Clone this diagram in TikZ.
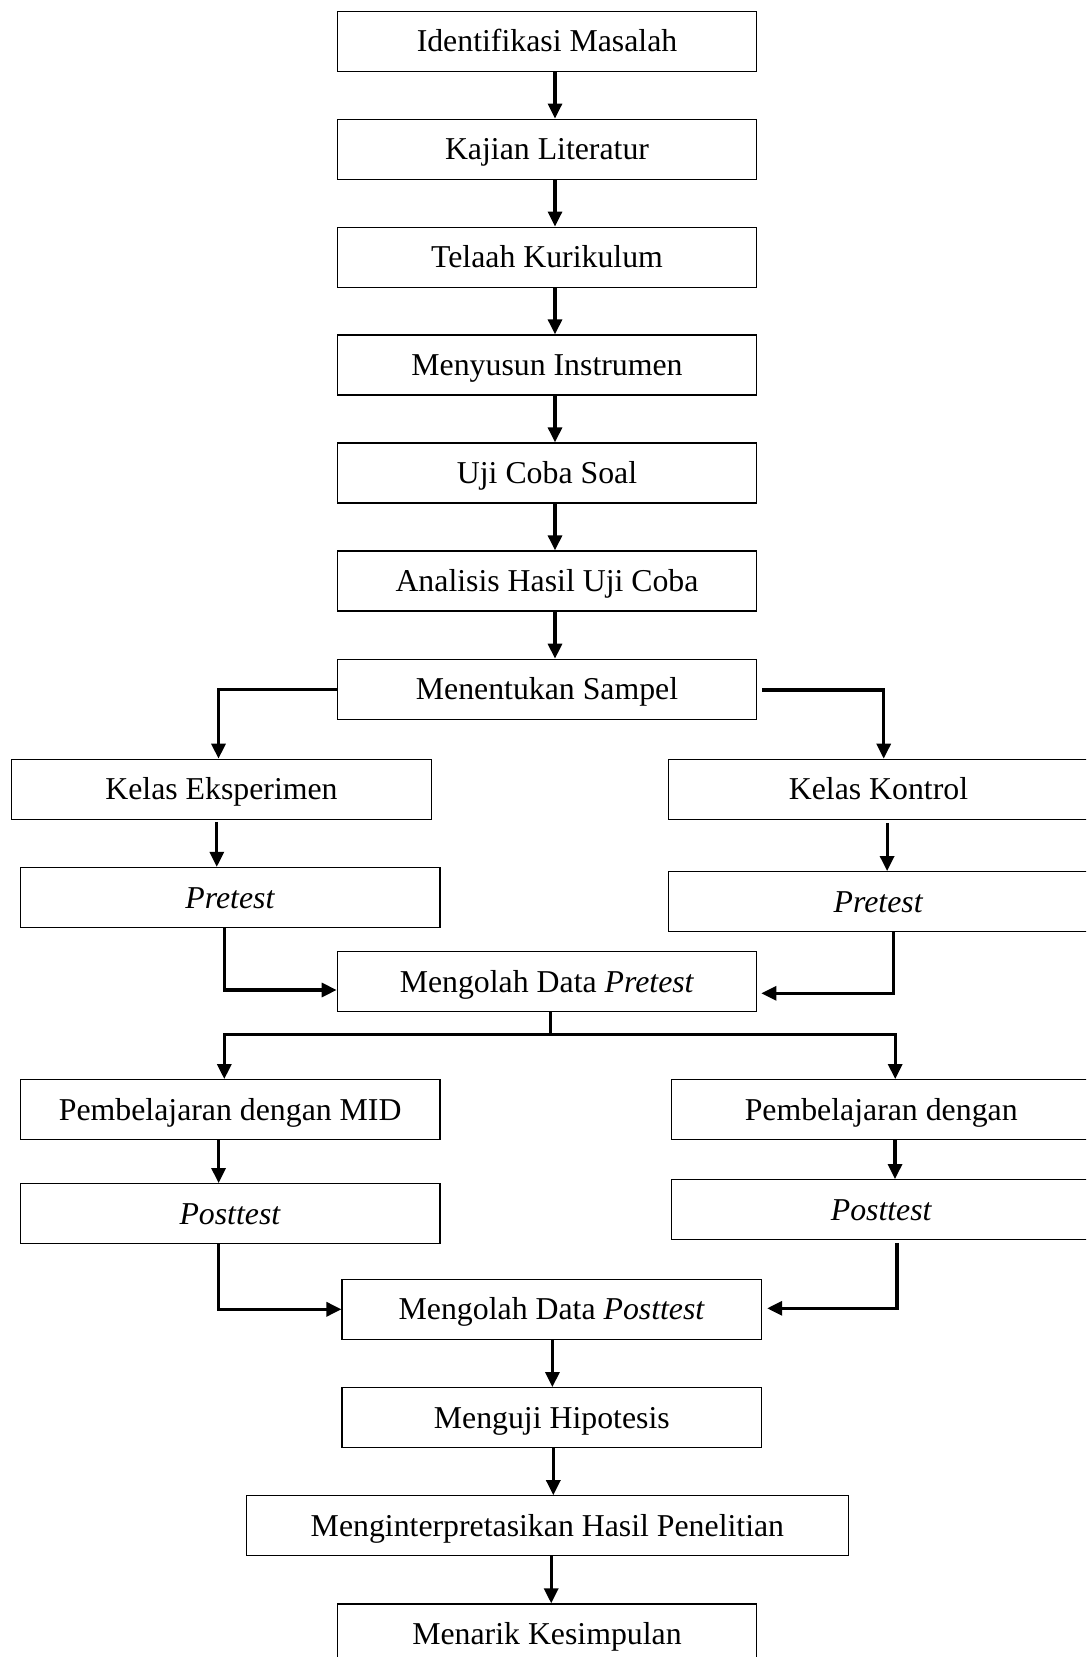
\documentclass[tikz,border=0pt]{standalone}
\usepackage{fontspec}
\setmainfont{Liberation Serif}
\usetikzlibrary{arrows.meta,calc}
\begin{document}
\begin{tikzpicture}[x=0.5pt,y=-0.5pt,
  box/.style={draw, line width=0.65pt, inner sep=0pt, minimum height=30pt,
    minimum width=209.7pt, text height=10.5pt, text depth=0pt,
    font=\fontsize{15.9}{19}\selectfont},
  arr/.style={line width=1.6pt, -{Triangle[width=7pt,length=7.5pt]}},
  ln/.style={line width=1.6pt}]
\useasboundingbox (0,0) rectangle (1086,1657);
\clip (0,0) rectangle (1086,1657);
% main column
\node[box] (id)  at (547,41.2)  {Identifikasi Masalah};
\node[box] (kaj) at (547,149.2) {Kajian Literatur};
\node[box] (tel) at (547,257.2) {Telaah Kurikulum};
\node[box] (ins) at (547,365)   {Menyusun Instrumen};
\node[box] (uc)  at (547,473)   {Uji Coba Soal};
\node[box] (ana) at (547,581)   {Analisis Hasil Uji Coba};
\node[box] (smp) at (547,689.3) {Menentukan Sampel};
% branches
\node[box] (ke)  at (221.5,789.3) {Kelas Eksperimen};
\node[box] (kk)  at (878.5,789.3) {Kelas Kontrol};
\node[box] (pe)  at (230.2,897.5) {\textit{Pretest}};
\node[box] (pk)  at (878.5,901.7) {\textit{Pretest}};
\node[box] (op)  at (547,981.7)   {Mengolah Data \textit{Pretest}};
\node[box] (me)  at (230.2,1109.7) {Pembelajaran dengan MID};
\node[box] (mk)  at (881.2,1109.7) {Pembelajaran dengan};
\node[box] (qe)  at (230.2,1213.7) {\textit{Posttest}};
\node[box] (qk)  at (881.5,1209.7) {\textit{Posttest}};
\node[box] (oq)  at (551.8,1309.3) {Mengolah Data \textit{Posttest}};
\node[box] (hip) at (551.8,1417.7) {Menguji Hipotesis};
\node[box, minimum width=301pt] (itp) at (547.4,1525.8) {Menginterpretasikan Hasil Penelitian};
\node[box] (kes) at (547,1634) {Menarik Kesimpulan};
% main arrows
\draw[arr] ([xshift=4pt]id.south)  -- ([xshift=4pt]kaj.north);
\draw[arr] ([xshift=4pt]kaj.south) -- ([xshift=4pt]tel.north);
\draw[arr] ([xshift=4pt]tel.south) -- ([xshift=4pt]ins.north);
\draw[arr] ([xshift=4pt]ins.south) -- ([xshift=4pt]uc.north);
\draw[arr] ([xshift=4pt]uc.south)  -- ([xshift=4pt]ana.north);
\draw[arr] ([xshift=4pt]ana.south) -- ([xshift=4pt]smp.north);
% split to classes
\draw[arr] (smp.west) -| ([xshift=-1.5pt]ke.north);
\draw[arr] ([xshift=2.5pt,yshift=-0.3pt]smp.east) -| ([xshift=2.6pt]kk.north);
\draw[arr] ([xshift=-2.35pt,yshift=-1pt]ke.south) -- ([xshift=-2.35pt]ke.south |- pe.north);
\draw[arr] ([xshift=4.3pt,yshift=-1.5pt]kk.south) -- ([xshift=4.3pt]kk.south |- pk.north);
% pretest to processing
\draw[arr] ([xshift=-2.95pt]pe.south) |- ([yshift=-4.15pt]op.west);
\draw[arr] ([xshift=7.45pt]pk.south) |- ([xshift=2pt,yshift=-5.8pt]op.east);
% split to learning
\coordinate (sp) at (550.4,1034.7);
\draw[ln] ([xshift=1.7pt]op.south) -- (sp);
\draw[arr] (sp) -| ([xshift=-2.95pt]me.north);
\draw[arr] (sp) -| ([xshift=7pt]mk.north);
\draw[arr] ([xshift=-5.8pt]me.south) -- ([xshift=-5.8pt]me.south |- qe.north);
\draw[arr] ([xshift=6.9pt]mk.south) -- ([xshift=6.9pt]mk.south |- qk.north);
% posttest to processing
\draw[arr] ([xshift=-5.8pt]qe.south) |- (oq.west);
\draw[arr] ([xshift=7.7pt,yshift=-1.2pt]qk.south) |- ([xshift=2.5pt,yshift=0.5pt]oq.east);
% final column
\draw[arr] ([xshift=0.3pt]oq.south) -- ([xshift=0.3pt]hip.north);
\draw[arr] ([xshift=0.75pt]hip.south) -- ([xshift=0.75pt]hip.south |- itp.north);
\draw[arr] ([xshift=1.9pt]itp.south) -- ([xshift=1.9pt]itp.south |- kes.north);
\end{tikzpicture}
\end{document}
